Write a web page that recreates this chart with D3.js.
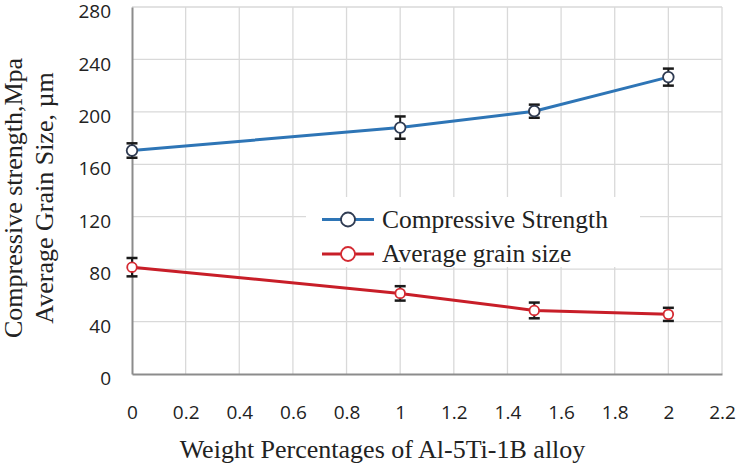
<!DOCTYPE html>
<html><head><meta charset="utf-8">
<script src="https://cdn.jsdelivr.net/npm/d3@7"></script>
<style>body{margin:0;background:#fff;}svg{display:block;}</style>
</head><body>
<script>
const xValues = [0, 1, 1.5, 2];
const strength = [170.5, 188, 200.5, 226.5];
const strengthErr = [5.5, 8.5, 5, 6.5];
const grain = [81.5, 61.5, 48.5, 45.5];
const grainErr = [7, 5.5, 6, 5];
const xTicks = [0, 0.2, 0.4, 0.6, 0.8, 1, 1.2, 1.4, 1.6, 1.8, 2, 2.2];
const yTicks = [0, 40, 80, 120, 160, 200, 240, 280];
const seriesNames = ["Compressive Strength", "Average grain size"];

const W = 740, H = 467;
const m = {left: 132, right: 18, top: 7, bottom: 93};
const svg = d3.select("body").append("svg").attr("width", W).attr("height", H);
const x = d3.scaleLinear().domain([0, 2.2]).range([m.left, W - m.right]);
const y = d3.scaleLinear().domain([0, 280]).range([H - m.bottom, m.top]);
const serif = "'Liberation Serif', 'Times New Roman', serif";

const g = svg.append("g");
// gridlines
g.selectAll(".hg").data(yTicks.filter(d => d > 0)).enter().append("line")
  .attr("x1", x(0)).attr("x2", x(2.2)).attr("y1", d => y(d)).attr("y2", d => y(d))
  .attr("stroke", "#d9d9d9").attr("stroke-width", 1.3);
g.selectAll(".vg").data(xTicks.filter(d => d > 0)).enter().append("line")
  .attr("x1", d => x(d)).attr("x2", d => x(d)).attr("y1", y(0)).attr("y2", y(280))
  .attr("stroke", "#d9d9d9").attr("stroke-width", 1.3);

// legend background (hides gridlines behind legend)
svg.append("rect").attr("x", 306).attr("y", 197).attr("width", 334).attr("height", 70).attr("fill", "#fff");

// axes
const yAxis = svg.append("g").attr("transform", `translate(${x(0)},0)`)
  .call(d3.axisLeft(y).tickValues(yTicks).tickSize(0).tickPadding(21));
const xAxis = svg.append("g").attr("transform", `translate(0,${y(0)})`)
  .call(d3.axisBottom(x).tickValues(xTicks).tickSize(0).tickPadding(32).tickFormat(d3.format("")));
[yAxis, xAxis].forEach(a => {
  a.select(".domain").attr("stroke", "#8c8c8c").attr("stroke-width", 2);
  a.selectAll("text").attr("font-family", "'Open Sans', 'Noto Sans', sans-serif")
    .attr("font-size", 19).attr("fill", "#222");
});
yAxis.selectAll("text").attr("y", 4.5);
xAxis.selectAll("text").attr("dy", "0.71em");

// series
const series = [
  {vals: strength, err: strengthErr, color: "#2e75b6", mstroke: "#2f3b52", r: 5.3},
  {vals: grain, err: grainErr, color: "#c81e28", mstroke: "#d42a32", r: 4.8}
];
const line = d3.line().x(d => x(d[0])).y(d => y(d[1]));
series.forEach(s => {
  const pts = xValues.map((v, i) => [v, s.vals[i], s.err[i]]);
  svg.append("path").datum(pts).attr("d", line).attr("fill", "none")
    .attr("stroke", s.color).attr("stroke-width", 3);
  const eb = svg.append("g").attr("stroke", "#1a1a1a");
  pts.forEach(p => {
    eb.append("line").attr("x1", x(p[0])).attr("x2", x(p[0])).attr("stroke-width", 2)
      .attr("y1", y(p[1] + p[2])).attr("y2", y(p[1] - p[2]));
    [p[1] + p[2], p[1] - p[2]].forEach(v => eb.append("line").attr("stroke-width", 2.5)
      .attr("x1", x(p[0]) - 5.5).attr("x2", x(p[0]) + 5.5).attr("y1", y(v)).attr("y2", y(v)));
  });
  svg.append("g").selectAll("circle").data(pts).enter().append("circle")
    .attr("cx", d => x(d[0])).attr("cy", d => y(d[1])).attr("r", s.r)
    .attr("fill", "#fff").attr("stroke", s.mstroke).attr("stroke-width", 1.8);
});

// legend
const lg = svg.append("g");
series.forEach((s, i) => {
  const ly = 219.5 + i * 34.5;
  lg.append("line").attr("x1", 322).attr("x2", 374).attr("y1", ly).attr("y2", ly)
    .attr("stroke", s.color).attr("stroke-width", 3);
  lg.append("circle").attr("cx", 348).attr("cy", ly).attr("r", 7)
    .attr("fill", "#fff").attr("stroke", s.mstroke).attr("stroke-width", 1.8);
  lg.append("text").attr("x", 382).attr("y", ly).attr("dy", "0.33em")
    .attr("font-family", serif)
    .attr("font-size", 25.5).attr("fill", "#222").text(seriesNames[i]);
});

// titles
svg.append("text").attr("x", 382.5).attr("y", 458).attr("text-anchor", "middle")
  .attr("font-family", serif)
  .attr("font-size", 26).attr("fill", "#222").text("Weight Percentages of Al-5Ti-1B alloy");
const yt = svg.append("text").attr("transform", "translate(0,198) rotate(-90)")
  .attr("text-anchor", "middle")
  .attr("font-family", serif)
  .attr("font-size", 26).attr("fill", "#222");
yt.append("tspan").attr("x", 0).attr("y", 22).text("Compressive strength,Mpa");
yt.append("tspan").attr("x", 0).attr("y", 52.5).text("Average Grain Size, µm");
</script>
</body></html>
